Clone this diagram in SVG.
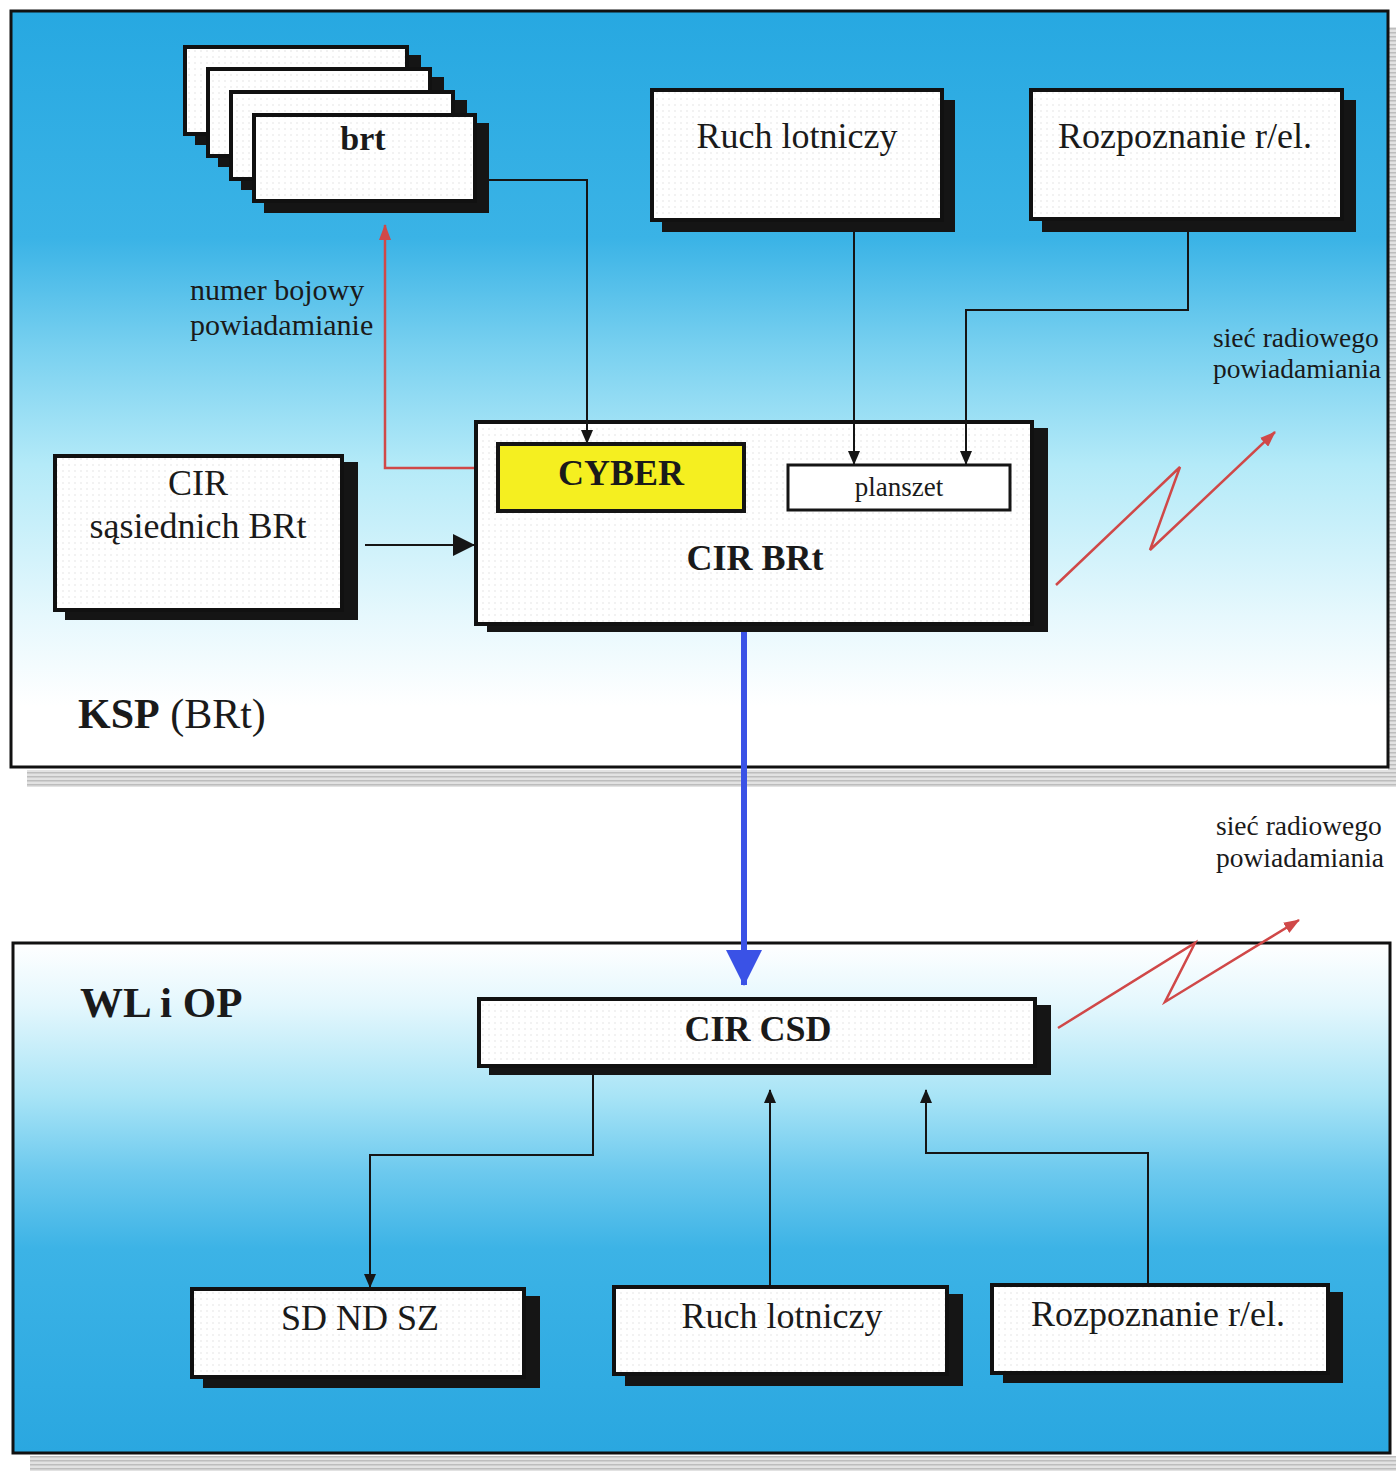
<svg xmlns="http://www.w3.org/2000/svg" width="1396" height="1471" viewBox="0 0 1396 1471">
<style>
.t{font-family:"Liberation Serif","Times New Roman",serif;fill:#1a1a1a;text-anchor:middle}
.b{font-weight:bold}
.box{fill:url(#dots);stroke:#111;stroke-width:4}
.sh{fill:#151515}
.ln{fill:none;stroke:#151515;stroke-width:2}
.red{fill:none;stroke:#d04848;stroke-width:2.5}
</style>
<defs>
<pattern id="dots" width="6" height="6" patternUnits="userSpaceOnUse"><rect width="6" height="6" fill="#fff"/><circle cx="3" cy="3" r="0.7" fill="#dcdcdc"/></pattern>
<pattern id="gray" width="4" height="4" patternUnits="userSpaceOnUse"><rect width="4" height="4" fill="#e2e2e2"/><rect width="4" height="1.5" fill="#bdbdbd"/></pattern>
<linearGradient id="gTop" x1="0" y1="0" x2="0" y2="1">
<stop offset="0" stop-color="#27a8e1"/>
<stop offset="0.3" stop-color="#3ab3e6"/>
<stop offset="0.45" stop-color="#7ad1f0"/>
<stop offset="0.6" stop-color="#b4eaf8"/>
<stop offset="0.8" stop-color="#e6f8fd"/>
<stop offset="0.92" stop-color="#ffffff"/>
<stop offset="1" stop-color="#ffffff"/>
</linearGradient>
<linearGradient id="gBot" x1="0" y1="0" x2="0" y2="1">
<stop offset="0" stop-color="#ffffff"/>
<stop offset="0.12" stop-color="#e4f7fd"/>
<stop offset="0.3" stop-color="#a8e4f6"/>
<stop offset="0.45" stop-color="#6cc9ee"/>
<stop offset="0.6" stop-color="#3cb3e6"/>
<stop offset="1" stop-color="#2aa7e0"/>
</linearGradient>
<marker id="ah" markerUnits="userSpaceOnUse" markerWidth="14" markerHeight="12" refX="13" refY="6" orient="auto"><path d="M0,0 L14,6 L0,12 Z" fill="#151515"/></marker>
<marker id="ahBig" markerUnits="userSpaceOnUse" markerWidth="22" markerHeight="22" refX="21" refY="11" orient="auto"><path d="M0,0 L22,11 L0,22 Z" fill="#151515"/></marker>
<marker id="ahRed" markerUnits="userSpaceOnUse" markerWidth="16" markerHeight="12" refX="15" refY="6" orient="auto"><path d="M0,0 L16,6 L0,12 Z" fill="#d04848"/></marker>
<marker id="ahBlue" markerUnits="userSpaceOnUse" markerWidth="36" markerHeight="36" refX="35" refY="18" orient="auto"><path d="M0,0 L36,18 L0,36 Z" fill="#3a52e6"/></marker>
</defs>

<rect width="1396" height="1471" fill="#ffffff"/>

<g id="panel-ksp">
<rect x="1388" y="27" width="8" height="760" fill="url(#gray)"/>
<rect x="27" y="770" width="1369" height="17" fill="url(#gray)"/>
<rect x="11" y="11" width="1377" height="756" fill="url(#gTop)" stroke="#111" stroke-width="3"/>
<text class="t" x="78" y="728" style="text-anchor:start;font-size:42px"><tspan class="b">KSP</tspan> (BRt)</text>
</g>

<g id="panel-wl">
<rect x="30" y="1456" width="1366" height="15" fill="url(#gray)"/>
<rect x="13" y="943" width="1377" height="510" fill="url(#gBot)" stroke="#111" stroke-width="3"/>
<text class="t b" x="80" y="1017" style="text-anchor:start;font-size:43px">WL i OP</text>
</g>

<g id="node-brt">
<rect class="sh" x="195" y="55" width="226" height="90"/>
<rect class="box" x="185" y="47" width="222" height="87"/>
<rect class="sh" x="218" y="77" width="226" height="90"/>
<rect class="box" x="208" y="69" width="222" height="87"/>
<rect class="sh" x="241" y="100" width="226" height="90"/>
<rect class="box" x="231" y="92" width="222" height="87"/>
<rect class="sh" x="264" y="123" width="225" height="90"/>
<rect class="box" x="254" y="115" width="221" height="86"/>
<text class="t b" x="363" y="150" style="font-size:34px">brt</text>
</g>

<g id="node-ruch-top">
<rect class="sh" x="662" y="100" width="293" height="132"/>
<rect class="box" x="652" y="90" width="290" height="130"/>
<text class="t" x="797" y="148" style="font-size:36px">Ruch lotniczy</text>
</g>

<g id="node-rozp-top">
<rect class="sh" x="1042" y="100" width="314" height="132"/>
<rect class="box" x="1031" y="90" width="311" height="129"/>
<text class="t" x="1185" y="148" style="font-size:36px">Rozpoznanie r/el.</text>
</g>

<g id="node-cir-sas">
<rect class="sh" x="65" y="462" width="293" height="158"/>
<rect class="box" x="55" y="456" width="287" height="154"/>
<text class="t" x="198" y="495" style="font-size:36px">CIR</text>
<text class="t" x="198" y="538" style="font-size:36px">sąsiednich BRt</text>
</g>

<g id="node-cir-brt">
<rect class="sh" x="487" y="428" width="561" height="204"/>
<rect class="box" x="476" y="422" width="556" height="202"/>
<text class="t b" x="755" y="570" style="font-size:36px">CIR BRt</text>
</g>

<g id="node-cyber">
<rect x="498" y="444" width="246" height="67" fill="#f5ef20" stroke="#151515" stroke-width="4"/>
<text class="t b" x="621" y="485" style="font-size:36px">CYBER</text>
</g>

<g id="node-planszet">
<rect x="788" y="465" width="222" height="45" fill="#ffffff" stroke="#151515" stroke-width="3"/>
<text class="t" x="899" y="496" style="font-size:27px">planszet</text>
</g>

<g id="node-cir-csd">
<rect class="sh" x="489" y="1005" width="562" height="70"/>
<rect class="box" x="479" y="999" width="556" height="67"/>
<text class="t b" x="758" y="1041" style="font-size:36px">CIR CSD</text>
</g>

<g id="node-sdndsz">
<rect class="sh" x="203" y="1296" width="337" height="92"/>
<rect class="box" x="192" y="1289" width="332" height="88"/>
<text class="t" x="360" y="1330" style="font-size:36px">SD ND SZ</text>
</g>

<g id="node-ruch-bot">
<rect class="sh" x="625" y="1294" width="338" height="92"/>
<rect class="box" x="614" y="1287" width="333" height="87"/>
<text class="t" x="782" y="1328" style="font-size:36px">Ruch lotniczy</text>
</g>

<g id="node-rozp-bot">
<rect class="sh" x="1003" y="1292" width="340" height="91"/>
<rect class="box" x="992" y="1285" width="336" height="88"/>
<text class="t" x="1158" y="1326" style="font-size:36px">Rozpoznanie r/el.</text>
</g>

<g id="labels">
<text class="t" x="190" y="300" style="text-anchor:start;font-size:30px">numer bojowy</text>
<text class="t" x="190" y="335" style="text-anchor:start;font-size:30px">powiadamianie</text>
<text class="t" x="1213" y="347" style="text-anchor:start;font-size:27.5px">sieć radiowego</text>
<text class="t" x="1213" y="378" style="text-anchor:start;font-size:27.5px">powiadamiania</text>
<text class="t" x="1216" y="835" style="text-anchor:start;font-size:27.5px">sieć radiowego</text>
<text class="t" x="1216" y="867" style="text-anchor:start;font-size:27.5px">powiadamiania</text>
</g>

<g id="connectors">
<path class="ln" d="M489,180 H587 V443" marker-end="url(#ah)"/>
<path class="ln" d="M854,232 V464" marker-end="url(#ah)"/>
<path class="ln" d="M1188,232 V310 H966 V464" marker-end="url(#ah)"/>
<path class="red" d="M474,468 H385 V225" marker-end="url(#ahRed)"/>
<path class="ln" d="M365,545 H474" marker-end="url(#ahBig)"/>
<path d="M744,632 V985" fill="none" stroke="#3a52e6" stroke-width="6" marker-end="url(#ahBlue)"/>
<path class="red" d="M1056,585 L1180,467 L1150,550 L1275,432" marker-end="url(#ahRed)"/>
<path class="red" d="M1058,1028 L1195,943 L1165,1002 L1299,920" marker-end="url(#ahRed)"/>
<path class="ln" d="M593,1075 V1155 H370 V1287" marker-end="url(#ah)"/>
<path class="ln" d="M770,1285 V1090" marker-end="url(#ah)"/>
<path class="ln" d="M1148,1283 V1153 H926 V1090" marker-end="url(#ah)"/>
</g>
</svg>
